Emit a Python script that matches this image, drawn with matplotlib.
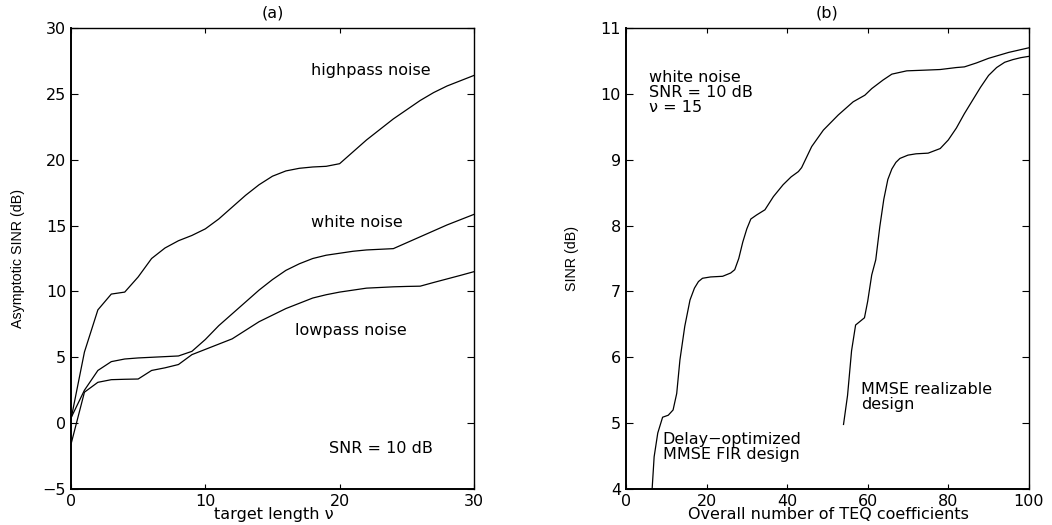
import numpy as np
import matplotlib.pyplot as plt

# (a) asymptotic SINR vs target length
nu = [0, 1, 2, 3, 4, 5, 6, 7, 8, 9, 10, 11, 12, 13, 14, 15, 16, 17, 18, 19, 20,
      21, 22, 23, 24, 25, 26, 27, 28, 29, 30]
sinr_high = [0.3, 5.4, 8.6, 9.8, 9.95, 11.1, 12.5, 13.3, 13.85, 14.25, 14.75, 15.5,
             16.4, 17.3, 18.1, 18.75, 19.15, 19.35, 19.45, 19.5, 19.7, 20.6, 21.5,
             22.3, 23.1, 23.8, 24.5, 25.1, 25.6, 26.0, 26.4]
sinr_white = [0.4, 2.5, 4.0, 4.67, 4.87, 4.95, 5.0, 5.05, 5.1, 5.45, 6.35, 7.4, 8.3,
              9.2, 10.1, 10.9, 11.6, 12.1, 12.5, 12.75, 12.9, 13.05, 13.15, 13.2,
              13.25, 13.7, 14.15, 14.6, 15.05, 15.45, 15.85]
sinr_low = [-1.6, 2.35, 3.1, 3.3, 3.33, 3.35, 4.0, 4.2, 4.45, 5.2, 5.6, 6.0, 6.4,
            7.05, 7.7, 8.2, 8.7, 9.1, 9.5, 9.75, 9.95, 10.1, 10.25, 10.3, 10.35,
            10.38, 10.4, 10.68, 10.95, 11.22, 11.5]

# (b) SINR vs number of TEQ coefficients
n_fir = [6.5, 7, 7.9, 9.1, 10.5, 11.7, 12.6, 13.4, 14.6, 15.9, 17, 18, 19, 21, 24,
         26, 27, 28, 29, 30, 31, 32.4, 34.5, 36.6, 39, 41, 42.8, 43.6, 46.1, 49,
         52.7, 56.4, 59.3, 61, 63.8, 66, 69.7, 74, 78, 82, 84, 87, 90, 95, 100]
sinr_fir = [4.0, 4.49, 4.85, 5.09, 5.12, 5.2, 5.45, 5.96, 6.47, 6.87, 7.05, 7.15,
            7.2, 7.22, 7.23, 7.28, 7.33, 7.5, 7.75, 7.95, 8.1, 8.16, 8.24, 8.44,
            8.62, 8.74, 8.82, 8.88, 9.2, 9.45, 9.68, 9.88, 9.98, 10.08, 10.21,
            10.3, 10.35, 10.36, 10.37, 10.4, 10.41, 10.47, 10.54, 10.63, 10.7]
n_real = [54, 55, 56, 57, 58, 59.2, 60, 61, 62, 63, 64, 65, 66, 67, 68, 70, 72, 75,
          78, 80, 82, 84, 86, 88, 90, 92, 94, 96, 98, 100]
sinr_real = [4.98, 5.42, 6.1, 6.49, 6.54, 6.6, 6.85, 7.25, 7.48, 7.98, 8.4, 8.7,
             8.86, 8.96, 9.02, 9.07, 9.09, 9.1, 9.17, 9.3, 9.48, 9.7, 9.9, 10.1,
             10.28, 10.4, 10.48, 10.52, 10.55, 10.57]

FS = 11.5
plt.rcParams['font.family'] = ['DejaVu Sans']
plt.rcParams['font.size'] = FS

fig = plt.figure(figsize=(10.52, 5.25), dpi=100)
ax1 = fig.add_axes([0.0675, 0.0686, 0.383, 0.878])
ax2 = fig.add_axes([0.595, 0.0686, 0.383, 0.878])

for ax in (ax1, ax2):
    ax.tick_params(axis='both', direction='in', top=True, right=True,
                   labelsize=FS, width=0.8)
    ax.tick_params(axis='y', length=5)
    ax.tick_params(axis='x', length=3.5)
    for s in ax.spines.values():
        s.set_linewidth(1.0)
    ax.spines['left'].set_linewidth(1.4)
    ax.spines['bottom'].set_linewidth(1.4)

# ----- (a) -----
ax1.plot(nu, sinr_high, 'k-', lw=0.9)
ax1.plot(nu, sinr_white, 'k-', lw=0.9)
ax1.plot(nu, sinr_low, 'k-', lw=0.9)
ax1.set_xlim(0, 30)
ax1.set_ylim(-5, 30)
ax1.set_xticks([0, 10, 20, 30])
ax1.set_yticks(np.arange(-5, 31, 5))
ax1.set_xticklabels(['0', '10', '20', '30'])
ax1.set_yticklabels(['\u22125', '0', '5', '10', '15', '20', '25', '30'])
ax1.text(17.9, 26.8, 'highpass noise', va='center')
ax1.text(17.9, 15.2, 'white noise', va='center')
ax1.text(16.7, 7.07, 'lowpass noise', va='center')
ax1.text(19.2, -1.9, 'SNR = 10 dB', va='center')
ax1.text(0.5, 1.033, '(a)', transform=ax1.transAxes, ha='center', va='center')
ax1.set_xlabel('target length \u03bd')
ax1.xaxis.set_label_coords(0.504, -0.039)
ax1.set_ylabel('Asymptotic SINR (dB)',
               family=['Liberation Sans Narrow', 'Liberation Sans'], fontsize=10.3)
ax1.yaxis.set_label_coords(-0.114, 0.5)

# ----- (b) -----
ax2.plot(n_fir, sinr_fir, 'k-', lw=0.9)
ax2.plot(n_real, sinr_real, 'k-', lw=0.9)
ax2.set_xlim(0, 100)
ax2.set_ylim(4, 11)
ax2.set_xticks(np.arange(0, 101, 20))
ax2.set_yticks(np.arange(4, 12, 1))
ax2.text(5.7, 10.36, 'white noise\nSNR = 10 dB\n\u03bd = 15', va='top',
         linespacing=1.0)
ax2.text(58.3, 5.39, 'MMSE realizable\ndesign', va='center', linespacing=1.0)
ax2.text(9.1, 4.64, 'Delay\u2212optimized\nMMSE FIR design', va='center',
         linespacing=1.0)
ax2.text(0.5, 1.033, '(b)', transform=ax2.transAxes, ha='center', va='center')
ax2.set_xlabel('Overall number of TEQ coefficients')
ax2.xaxis.set_label_coords(0.502, -0.039)
ax2.set_ylabel('SINR (dB)',
               family=['Liberation Sans Narrow', 'Liberation Sans'], fontsize=10.3)
ax2.yaxis.set_label_coords(-0.117, 0.5)

fig.savefig('out.png', dpi=100)
